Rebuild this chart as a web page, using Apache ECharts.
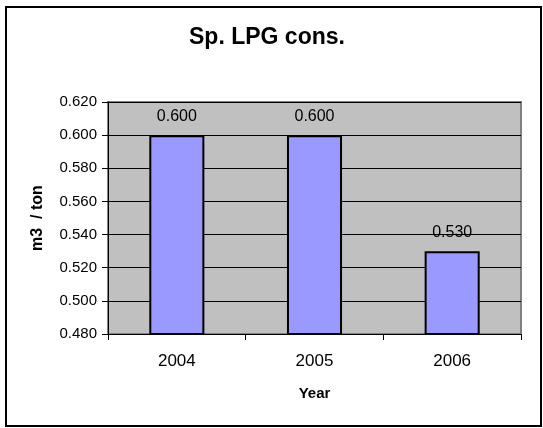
<!DOCTYPE html>
<html>
<head>
<meta charset="utf-8">
<script src="https://cdn.jsdelivr.net/npm/echarts@6/dist/echarts.min.js"></script>
<style>
html,body{margin:0;padding:0;background:#fff;}
#c{width:543px;height:428px;}
</style>
</head>
<body>
<div id="c"></div>
<script>
const categories = ['2004', '2005', '2006'];
const consumption = [0.600, 0.600, 0.530];
const yTicks = { min: 0.48, max: 0.62, interval: 0.02 };

const chart = echarts.init(document.getElementById('c'), null, { renderer: 'canvas' });
const font = 'Liberation Sans, Arial, sans-serif';
chart.setOption({
  animation: false,
  backgroundColor: '#fff',
  textStyle: { fontFamily: font },
  title: {
    text: 'Sp. LPG cons.',
    left: 184,
    top: 21,
    textStyle: { fontFamily: font, fontSize: 23, fontWeight: 'bold', color: '#000' }
  },
  graphic: [{
    type: 'rect',
    shape: { x: 6, y: 7, width: 535, height: 419 },
    style: { fill: 'none', stroke: '#000', lineWidth: 2 },
    silent: true
  }],
  grid: {
    left: 108, right: 22, top: 102, bottom: 94,
    show: true, backgroundColor: '#c0c0c0', borderColor: '#808080', borderWidth: 2
  },
  xAxis: {
    type: 'category',
    data: categories,
    name: 'Year',
    nameLocation: 'middle',
    nameGap: 52,
    nameTextStyle: { fontFamily: font, fontSize: 15, fontWeight: 'bold', color: '#000' },
    axisLine: { show: true, lineStyle: { color: '#000', width: 1 } },
    axisTick: { show: true, length: 6, lineStyle: { color: '#000' } },
    axisLabel: { fontFamily: font, fontSize: 17, color: '#000', margin: 19 }
  },
  yAxis: {
    type: 'value',
    min: yTicks.min, max: yTicks.max, interval: yTicks.interval,
    name: 'm3  / ton',
    nameLocation: 'middle',
    nameGap: 62,
    nameTextStyle: { fontFamily: font, fontSize: 16, fontWeight: 'bold', color: '#000' },
    axisLine: { show: true, lineStyle: { color: '#000', width: 1 } },
    axisTick: { show: true, length: 6, lineStyle: { color: '#000' } },
    axisLabel: { fontFamily: font, fontSize: 15, color: '#000', margin: 11,
      formatter: v => v.toFixed(3) },
    splitLine: { show: true, lineStyle: { color: '#000', width: 1 } }
  },
  series: [{
    type: 'bar',
    data: consumption,
    barCategoryGap: '60%',
    itemStyle: { color: '#9999ff', borderColor: '#000', borderWidth: 2 },
    label: {
      show: true, position: 'top', distance: 11,
      fontFamily: font, fontSize: 16, color: '#000',
      formatter: p => p.value.toFixed(3)
    }
  }]
});
</script>
</body>
</html>
